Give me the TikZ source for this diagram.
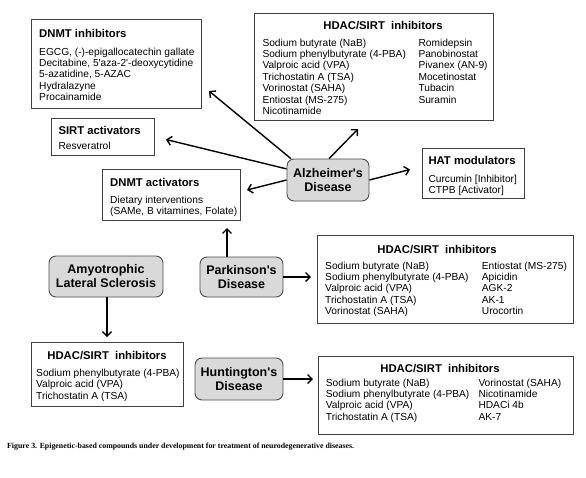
\documentclass[tikz,border=0pt]{standalone}
\usepackage{fontspec}
\setmainfont{Liberation Sans}
\newfontfamily\capfont{Liberation Serif}
\usetikzlibrary{arrows.meta}
\newcommand{\sq}{\textquotesingle}
\tikzset{
  box/.style={draw=black!75, line width=0.9pt, fill=white, inner sep=0pt},
  dis/.style={draw=black!70, line width=0.9pt, fill=black!15, rounded corners=7pt, inner sep=0pt,
    align=center, font=\fontsize{12.5}{14}\selectfont\bfseries},
  ttl/.style={inner sep=0pt, font=\fontsize{11.3}{13}\selectfont\bfseries},
  lst/.style={inner sep=0pt, align=left, anchor=base west, font=\fontsize{10.2}{11.4}\selectfont},
  arr/.style={line width=1.4pt, -{Straight Barb[length=4.5pt,width=9pt]}}
}
\begin{document}
\begin{tikzpicture}[x=1pt,y=-1pt]
\useasboundingbox (0,0) rectangle (586,477);
% boxes
\node[box, minimum width=170pt, minimum height=89pt] (dnmti) at (116,63.5) {};
\node[box, minimum width=239pt, minimum height=107pt] (hdact) at (373.5,66.5) {};
\node[box, minimum width=103pt, minimum height=37pt] (sirt) at (102.5,136.5) {};
\node[box, minimum width=138pt, minimum height=51pt] (dnmta) at (171,194.5) {};
\node[box, minimum width=102pt, minimum height=50pt] (hat) at (473,173) {};
\node[box, minimum width=256pt, minimum height=88pt] (hdacp) at (445,279) {};
\node[box, minimum width=152pt, minimum height=64pt] (hdaca) at (107,374) {};
\node[box, minimum width=255pt, minimum height=78pt] (hdach) at (445.5,395) {};
% disease nodes
\node[dis, minimum width=82pt, minimum height=42pt] (alz) at (328,180) {Alzheimer\sq s\\Disease};
\node[dis, minimum width=83pt, minimum height=40pt] (park) at (241.5,277) {Parkinson\sq s\\Disease};
\node[dis, minimum width=114pt, minimum height=41pt] (als) at (106,276.5) {Amyotrophic\\Lateral Sclerosis};
\node[dis, minimum width=88pt, minimum height=42pt] (hunt) at (239,379) {Huntington\sq s\\Disease};
% texts: DNMT inhibitors (anchors at the baseline of the last line)
\node[ttl, anchor=base west] (dnmtiT) at (39,37) {DNMT inhibitors};
\node[lst, font=\fontsize{10.2}{11.3}\selectfont] (dnmtiL) at (39,100.5) {EGCG, (-)-epigallocatechin gallate\\Decitabine, 5\sq aza-2\sq -deoxycytidine\\5-azatidine, 5-AZAC\\Hydralazyne\\Procainamide};
% HDAC top
\node[ttl, anchor=base] (hdactT) at (383,29) {HDAC/SIRT\hspace{0.55em}inhibitors};
\node[lst, font=\fontsize{10.2}{11.45}\selectfont] (hdactL) at (262.3,114.7) {Sodium butyrate (NaB)\\Sodium phenylbutyrate (4-PBA)\\Valproic acid (VPA)\\Trichostatin A (TSA)\\Vorinostat (SAHA)\\Entiostat (MS-275)\\Nicotinamide};
\node[lst, font=\fontsize{10.2}{11.45}\selectfont] (hdactR) at (418.3,103.25) {Romidepsin\\Panobinostat\\Pivanex (AN-9)\\Mocetinostat\\Tubacin\\Suramin};
% SIRT activators
\node[ttl, anchor=base west] (sirtT) at (58.3,134.7) {SIRT activators};
\node[lst] (sirtL) at (58.3,149.3) {Resveratrol};
% DNMT activators
\node[ttl, anchor=base west] (dnmtaT) at (110,186.7) {DNMT activators};
\node[lst, font=\fontsize{10.2}{11}\selectfont] (dnmtaL) at (110,214) {Dietary interventions\\(SAMe, B vitamines, Folate)};
% HAT
\node[ttl, anchor=base west] (hatT) at (428.3,164.7) {HAT modulators};
\node[lst, font=\fontsize{10.2}{10.8}\selectfont] (hatL) at (428.3,193.4) {Curcumin [Inhibitor]\\CTPB [Activator]};
% Parkinson HDAC
\node[ttl, anchor=base] (hdacpT) at (437,253.3) {HDAC/SIRT\hspace{0.55em}inhibitors};
\node[lst, font=\fontsize{10.2}{11.25}\selectfont] (hdacpL) at (325,314.3) {Sodium butyrate (NaB)\\Sodium phenylbutyrate (4-PBA)\\Valproic acid (VPA)\\Trichostatin A (TSA)\\Vorinostat (SAHA)};
\node[lst, font=\fontsize{10.2}{11.25}\selectfont] (hdacpR) at (481.7,314.3) {Entiostat (MS-275)\\Apicidin\\AGK-2\\AK-1\\Urocortin};
% ALS HDAC
\node[ttl, anchor=base] (hdacaT) at (107,359) {HDAC/SIRT\hspace{0.55em}inhibitors};
\node[lst, font=\fontsize{10.2}{11.3}\selectfont] (hdacaL) at (36,399.1) {Sodium phenylbutyrate (4-PBA)\\Valproic acid (VPA)\\Trichostatin A (TSA)};
% Huntington HDAC
\node[ttl, anchor=base] (hdachT) at (440,372) {HDAC/SIRT\hspace{0.55em}inhibitors};
\node[lst, font=\fontsize{10.2}{11.3}\selectfont] (hdachL) at (325.7,420.2) {Sodium butyrate (NaB)\\Sodium phenylbutyrate (4-PBA)\\Valproic acid (VPA)\\Trichostatin A (TSA)};
\node[lst, font=\fontsize{10.2}{11.3}\selectfont] (hdachR) at (478.3,420.2) {Vorinostat (SAHA)\\Nicotinamide\\HDACi 4b\\AK-7};
% caption
\node[inner sep=0pt, anchor=base west, font=\capfont\fontsize{7.85}{9}\selectfont\bfseries] (cap) at (7,448) {Figure 3. Epigenetic-based compounds under development for treatment of neurodegenerative diseases.};
% arrow tips
\coordinate (t1) at (209,91);
\coordinate (t2) at (166,139.5);
\coordinate (t3) at (247,190);
\coordinate (t4) at (358,129);
\coordinate (t5) at (410,169.5);
\coordinate (t6) at (227,228);
\coordinate (t7) at (311,277);
\coordinate (t8) at (107,337);
\coordinate (t9) at (313,379);
\draw[arr] (alz.150) -- (t1);
\draw[arr] (alz.165) -- (t2);
\draw[arr] (alz.west) -- (t3);
\draw[arr] (alz.87) -- (t4);
\draw[arr] (alz.east) -- (t5);
\draw[arr] (t6 |- park.north) -- (t6);
\draw[arr] (park.east) -- (t7);
\draw[arr] (t8 |- als.south) -- (t8);
\draw[arr] (hunt.east) -- (t9);
\end{tikzpicture}
\end{document}
